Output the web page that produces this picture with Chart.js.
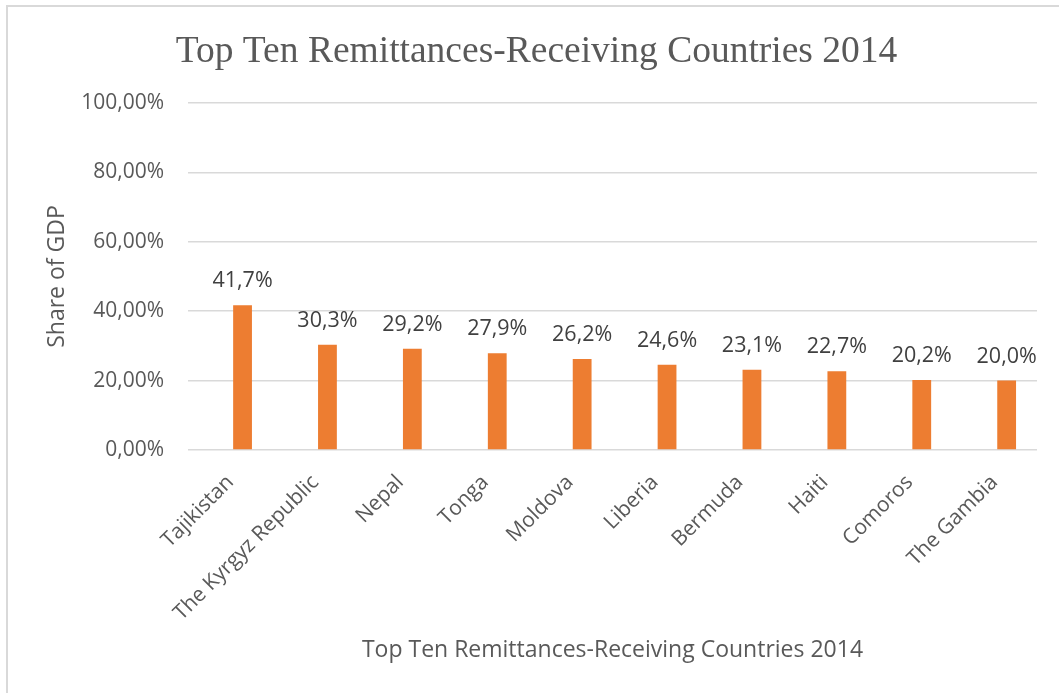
<!DOCTYPE html>
<html>
<head>
<meta charset="utf-8">
<title>Top Ten Remittances-Receiving Countries 2014</title>
<script src="https://cdn.jsdelivr.net/npm/chart.js@4.4.1/dist/chart.umd.min.js"></script>
<style>
    html, body { margin: 0; padding: 0; background: #fff; overflow: hidden; }
    .moldura { position: absolute; left: 6px; top: 5px; width: 1100px; height: 720px; border: 2px solid #d9d9d9; box-sizing: border-box; }
    .grafico { position: absolute; left: 0; top: 0; width: 1059px; height: 693px; }
</style>
</head>
<body>
<div class="moldura"></div>
<div class="grafico"><canvas id="graficoRemessas"></canvas></div>
<script>
// ==========================================
// Remessas como % do PIB — dez maiores receptores (2014)
// ==========================================
var TITULO = 'Top Ten Remittances-Receiving Countries 2014';
var PAISES = ['Tajikistan', 'The Kyrgyz Republic', 'Nepal', 'Tonga', 'Moldova', 'Liberia', 'Bermuda', 'Haiti', 'Comoros', 'The Gambia'];
var PARTICIPACAO_PIB = [41.7, 30.3, 29.2, 27.9, 26.2, 24.6, 23.1, 22.7, 20.2, 20.0];
// série auxiliar sem valores (ocupa o primeiro slot de cada categoria)
var SERIE_VAZIA = [null, null, null, null, null, null, null, null, null, null];
var TICKS_Y = [0, 20, 40, 60, 80, 100];

var COR_BARRA = '#ED7D31';
var COR_TEXTO = '#595959';
var COR_GRADE = '#d9d9d9';
var FONTE = '"Open Sans", "DejaVu Sans", sans-serif';

(function () {
    'use strict';

    /// Formata com vírgula decimal (padrão pt-BR).
    function formatarPct(v, casas) {
        return v.toFixed(casas).replace('.', ',') + '%';
    }

    /// Título principal em fonte serifada.
    var tituloSerifa = {
        id: 'tituloSerifa',
        afterDraw: function (chart) {
            var ctx = chart.ctx;
            ctx.save();
            ctx.font = '37.5px "Liberation Serif", "DejaVu Serif", serif';
            ctx.fillStyle = COR_TEXTO;
            ctx.textAlign = 'center';
            ctx.textBaseline = 'alphabetic';
            ctx.fillText(TITULO, chart.width / 2 + 7, 62);
            ctx.restore();
        }
    };

    /// Rótulo com o valor acima de cada barra da série principal.
    var rotulosValores = {
        id: 'rotulosValores',
        afterDatasetsDraw: function (chart) {
            var ctx = chart.ctx;
            var meta = chart.getDatasetMeta(1);
            ctx.save();
            ctx.font = '21.5px ' + FONTE;
            ctx.fillStyle = '#404040';
            ctx.textAlign = 'center';
            ctx.textBaseline = 'alphabetic';
            meta.data.forEach(function (barra, i) {
                ctx.fillText(formatarPct(PARTICIPACAO_PIB[i], 1), barra.x, barra.y - 18);
            });
            ctx.restore();
        }
    };

    var ctx = document.getElementById('graficoRemessas').getContext('2d');
    new Chart(ctx, {
        type: 'bar',
        data: {
            labels: PAISES,
            datasets: [
                {
                    label: '',
                    data: SERIE_VAZIA,
                    backgroundColor: 'rgba(0,0,0,0)',
                    categoryPercentage: 0.57,
                    barPercentage: 0.777
                },
                {
                    label: 'Share of GDP',
                    data: PARTICIPACAO_PIB,
                    backgroundColor: COR_BARRA,
                    categoryPercentage: 0.57,
                    barPercentage: 0.777
                }
            ]
        },
        options: {
            responsive: true,
            maintainAspectRatio: false,
            animation: false,
            layout: { padding: { top: 103, right: 22, left: 0, bottom: 0 } },
            plugins: {
                legend: { display: false },
                tooltip: { enabled: false }
            },
            scales: {
                x: {
                    grid: { display: false },
                    border: { display: false },
                    ticks: {
                        color: COR_TEXTO,
                        font: { family: FONTE, size: 21 },
                        minRotation: 45,
                        maxRotation: 45,
                        autoSkip: false,
                        padding: 12
                    },
                    title: {
                        display: true,
                        text: TITULO,
                        color: COR_TEXTO,
                        font: { family: FONTE, size: 23 },
                        padding: { top: 0, bottom: 29 }
                    },
                    afterFit: function (scale) { scale.height = 243; }
                },
                y: {
                    min: 0,
                    max: 100,
                    afterBuildTicks: function (scale) {
                        scale.ticks = TICKS_Y.map(function (v) { return { value: v }; });
                    },
                    grid: { color: COR_GRADE, lineWidth: 1.5, drawTicks: false },
                    border: { display: false },
                    ticks: {
                        color: COR_TEXTO,
                        font: { family: FONTE, size: 21 },
                        padding: 24,
                        callback: function (v) { return formatarPct(v, 2); }
                    },
                    title: {
                        display: true,
                        text: 'Share of GDP',
                        color: COR_TEXTO,
                        font: { family: FONTE, size: 23 },
                        padding: { top: 44, bottom: 0 }
                    },
                    afterFit: function (scale) { scale.width = 188; }
                }
            }
        },
        plugins: [rotulosValores, tituloSerifa]
    });
})();
</script>
</body>
</html>
